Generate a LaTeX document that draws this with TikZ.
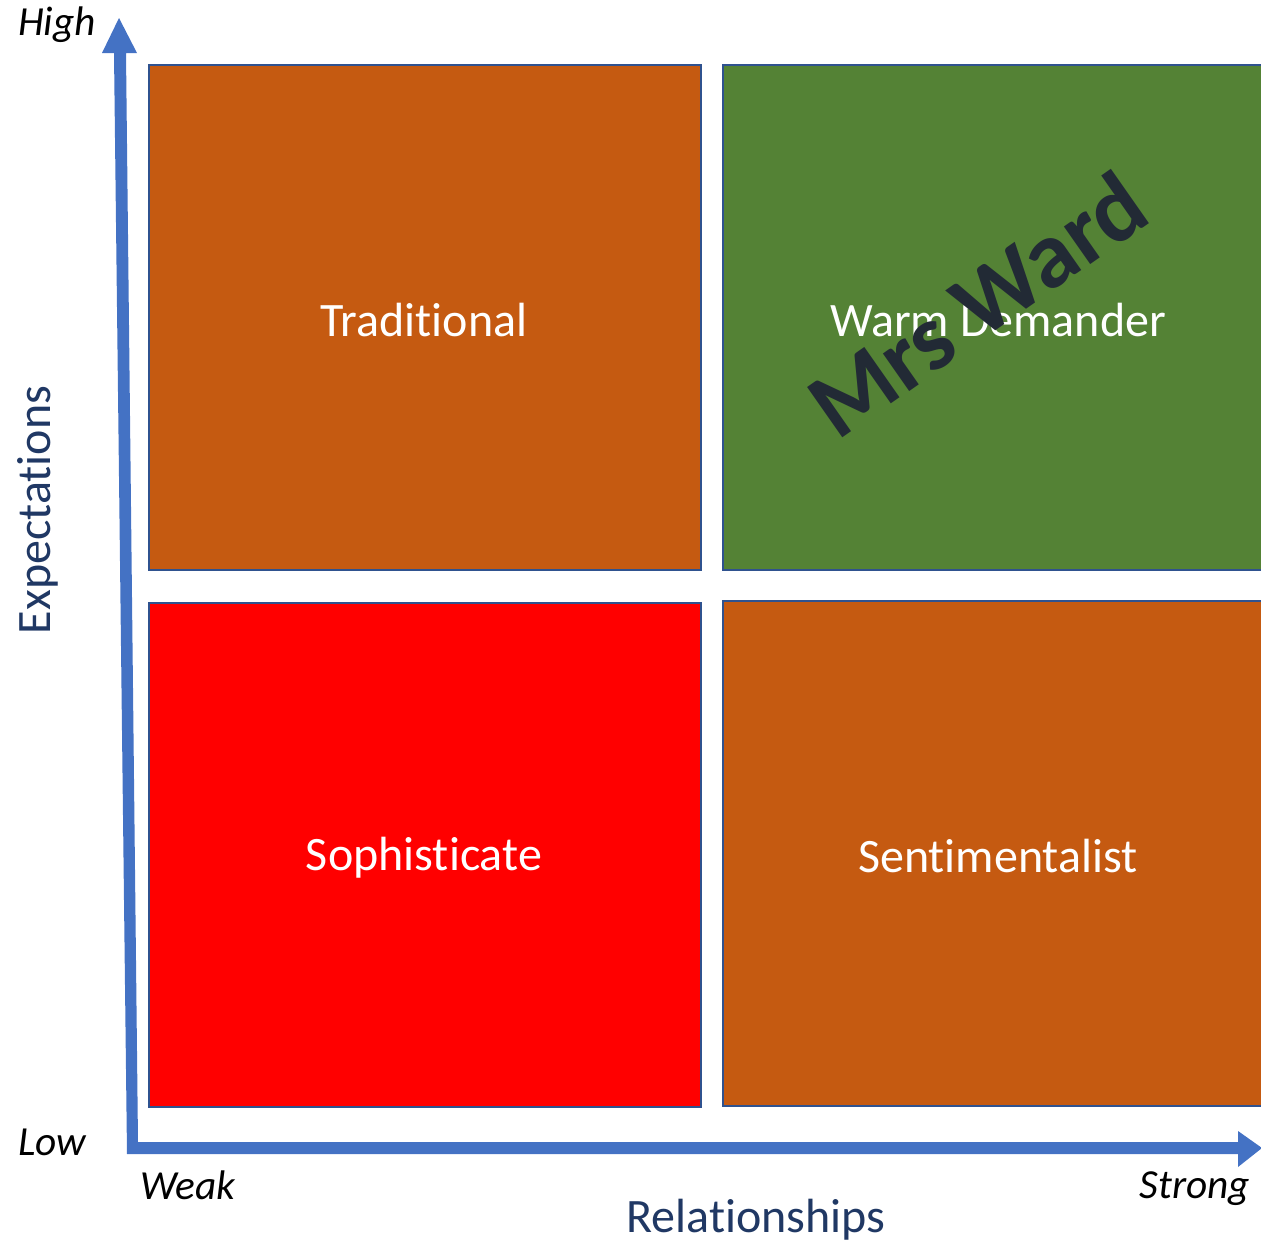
\documentclass[tikz,border=0pt]{standalone}
\usepackage{fontspec}
\setmainfont{Carlito}[Ligatures={NoCommon,NoRequired,NoContextual}]
\begin{document}
\begin{tikzpicture}[x=0.75pt,y=-0.75pt,
  quad/.style={draw=boxborder,line width=1.5pt,inner sep=0pt,anchor=north west},
  quadtext/.style={text=white,font=\fontsize{36}{43}\selectfont},
  axislabel/.style={text=black,font=\fontsize{31}{37}\selectfont\itshape},
  axistitle/.style={text=titleblue,font=\fontsize{36}{43}\selectfont},
  axisfill/.style={fill=axisblue}]
\definecolor{boxborder}{HTML}{2F528F}
\definecolor{orangebox}{HTML}{C55A11}
\definecolor{greenbox}{HTML}{548235}
\definecolor{axisblue}{HTML}{4472C4}
\definecolor{titleblue}{HTML}{203864}
\definecolor{wardtext}{HTML}{222A35}
\useasboundingbox (0,0) rectangle (1261,1243);
\clip (0,0) rectangle (1261,1243);
% quadrants
\node[quad,fill=orangebox,minimum width=552*0.75pt,minimum height=505*0.75pt] (trad) at (148,64) {};
\node[quad,fill=greenbox,minimum width=545*0.75pt,minimum height=505*0.75pt] (warm) at (722,64) {};
\node[quad,fill=red,minimum width=552*0.75pt,minimum height=504*0.75pt] (soph) at (148,602) {};
\node[quad,fill=orangebox,minimum width=545*0.75pt,minimum height=505*0.75pt] (sent) at (722,600) {};
\node[quadtext] (tradt) at (424,320) {Traditional};
\node[quadtext] (warmt) at (998,320) {Warm Demander};
\node[quadtext] (sopht) at (424,858) {Sophisticate};
\node[quadtext] (sentt) at (998,856) {Sentimentalist};
% axes
\coordinate (corner) at (127,1154);
\fill[axisfill] (127,1154) -- (114,53) -- (102,53) -- (119,18) -- (137,53) -- (126,53) -- (138,1142)
  -- (1238,1142) -- (1238,1131) -- (1262,1148) -- (1238,1167) -- (1238,1154) -- cycle;
% labels
\node[axislabel] (high) at (57,25) {High};
\node[axislabel] (low) at (52,1142) {Low};
\node[axislabel] (weak) at (188,1185) {Weak};
\node[axislabel] (strong) at (1195,1189) {Strong};
\node[axistitle] (rel) at (756,1220) {Relationships};
\node[axistitle,rotate=90] (exp) at (38,510) {Expectations};
% watermark
\node[text=wardtext,font=\fontsize{71}{84}\selectfont\bfseries,rotate=35] (ward) at (977,304) {Mrs Ward};
\end{tikzpicture}
\end{document}
